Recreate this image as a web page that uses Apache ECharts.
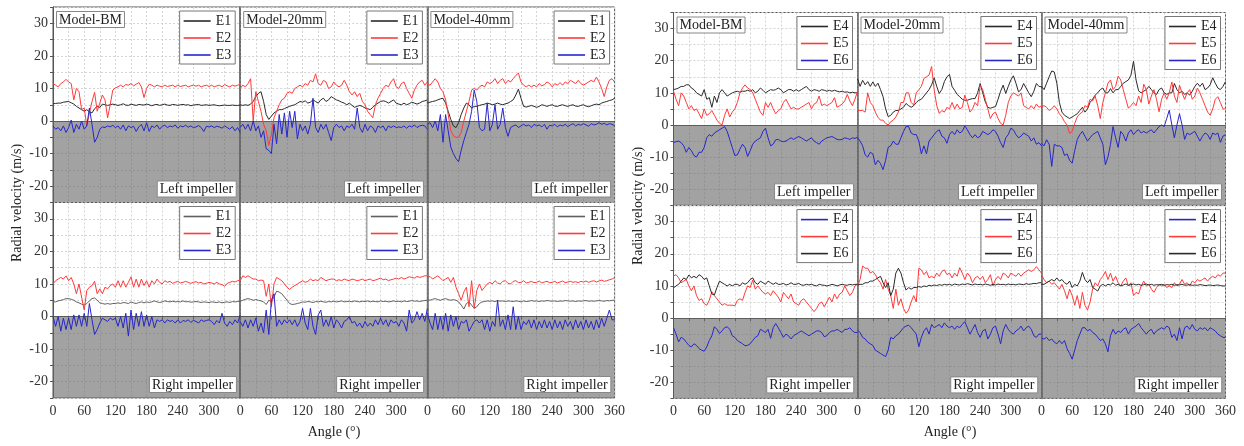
<!DOCTYPE html>
<html>
<head>
<meta charset="utf-8">
<script src="https://cdn.jsdelivr.net/npm/echarts@6/dist/echarts.min.js"></script>
<style>
  html, body { margin: 0; background: #fff; }
  #chart { width: 1244px; height: 446px; }
</style>
</head>
<body>
<div id="chart"></div>
<script>
// angle samples, 0..360 every 5 deg
const angles = Array.from({ length: 73 }, (_, i) => i * 5);

// ---- left panel, left impeller (E1 E2 E3)
const ltBM1 = [5.3,5.4,5.5,5.5,5.8,5.9,6.0,5.6,5.2,4.5,4.0,3.5,
  3.0,3.5,2.8,2.5,3.8,4.5,4.2,5.2,5.0,4.8,5.0,5.2,
  5.0,4.8,5.0,5.3,4.9,4.8,5.2,5.0,4.8,5.1,5.0,4.9,
  5.2,5.0,4.7,5.0,5.1,4.8,5.0,5.2,4.9,4.8,5.1,5.0,
  4.8,5.0,5.1,4.9,5.0,4.7,4.9,5.0,5.1,4.8,4.9,5.0,
  4.8,4.9,5.0,4.8,4.7,4.8,4.9,4.8,4.8,4.9,4.8,4.8, 4.9];
const ltBM2 = [11.5,11.0,10.5,11.5,12.0,12.8,12.0,11.5,6.5,10.0,9.0,3.5,
  4.0,-1.5,2.5,6.0,8.8,3.0,5.5,8.0,6.5,1.0,5.0,9.5,
  10.2,10.5,11.0,10.5,11.2,11.0,11.5,10.8,11.3,11.8,10.5,7.2,
  10.0,11.3,11.0,10.5,11.0,10.7,10.5,11.0,10.6,10.8,11.0,10.5,
  11.0,10.6,10.8,11.0,10.5,10.8,11.0,10.7,11.0,10.5,10.8,11.0,
  10.6,11.0,10.5,10.8,11.0,10.5,11.2,10.8,10.5,11.0,10.7,11.0, 11.2];
const ltBM3 = [-1.5,-2.5,-2.0,-3.0,-1.5,-3.5,-2.0,0.3,-3.5,-1.0,-2.5,0.0,
  -2.5,-1.5,4.0,-1.0,-6.5,-5.0,-2.5,-1.8,-2.0,-1.5,-1.8,-1.3,
  -2.0,-1.5,-2.5,-1.2,-3.0,-1.5,-2.0,-1.6,-3.2,-1.8,-1.0,-3.0,
  -0.5,-3.2,-1.5,-2.0,-1.2,-2.5,-1.6,-1.3,-2.0,-1.5,-1.8,-1.2,
  -2.2,-1.5,-1.8,-1.3,-1.9,-1.5,-2.0,-1.8,-1.4,-2.0,-3.2,-1.6,
  -1.8,-1.5,-2.0,-1.6,-1.8,-2.2,-1.5,-2.0,-2.5,-1.7,-3.0,-2.0, -3.5];

const lt20_1 = [5.0,4.8,5.0,4.8,5.2,6.0,7.5,8.5,9.0,6.0,2.0,0.5,
  1.5,2.5,3.0,3.5,3.5,3.8,4.2,4.5,4.8,5.0,5.5,6.0,
  5.8,6.2,5.5,5.8,6.5,6.0,5.5,6.5,7.0,6.0,6.5,7.5,
  7.0,6.5,6.2,5.8,5.5,5.0,5.5,4.8,4.2,4.5,4.8,4.5,
  4.0,3.8,3.5,4.2,5.0,5.5,6.0,6.2,6.0,5.5,6.0,6.5,
  5.5,5.2,5.0,5.5,5.0,5.3,5.8,5.5,5.2,5.5,6.0,6.2, 6.5];
const lt20_2 = [10.0,11.0,10.5,11.5,13.0,0.0,9.0,6.0,3.0,-1.0,-3.0,-7.5,
  -4.0,1.0,3.0,5.0,6.5,7.0,8.5,9.0,8.5,10.0,10.5,11.0,
  10.5,11.5,11.0,12.5,12.0,14.5,11.5,11.0,12.5,12.0,10.0,10.5,
  12.0,11.0,10.5,11.0,12.5,11.0,9.0,8.0,9.0,7.5,8.5,6.0,
  5.0,3.0,2.0,1.0,5.0,7.0,8.5,10.0,11.0,10.5,12.0,13.0,
  10.5,10.0,11.5,12.0,10.0,8.5,7.0,9.5,11.0,12.0,12.5,11.0, 12.0];
const lt20_3 = [-2.0,-1.0,-2.5,-1.0,-3.0,0.0,-3.0,-1.5,-5.0,-3.0,-8.5,-9.0,
  -10.0,-1.0,-7.0,2.0,-4.0,2.5,-5.0,3.0,-2.0,3.0,-5.5,-1.0,
  -3.0,-1.5,-4.0,-1.0,7.0,-2.0,-3.5,-1.0,-2.5,-1.0,-3.5,-6.0,
  -2.0,-1.0,-2.0,-1.5,-3.0,-1.5,-2.0,-1.0,-2.5,4.0,-2.0,-3.5,
  -1.0,-3.0,-1.5,-2.0,-3.5,-1.5,-2.0,-1.5,-3.0,-1.5,-2.0,-1.5,
  -2.0,-1.8,-2.0,-1.5,-2.2,-1.5,-1.8,-1.2,-2.0,-1.5,-1.3,-1.5, -2.5];

const lt40_1 = [5.5,5.8,6.0,6.2,6.5,6.8,7.0,5.5,3.0,0.5,-1.5,-2.0,
  -0.5,2.0,4.0,5.5,5.0,4.0,4.5,4.5,4.8,5.0,5.2,5.5,
  5.3,5.0,5.2,5.5,5.2,5.0,5.3,5.5,6.0,6.5,8.0,9.8,
  7.0,4.5,4.3,4.5,4.8,4.5,4.2,4.5,5.0,4.8,4.5,4.8,
  5.0,4.6,4.5,4.8,5.0,4.7,4.5,4.8,5.0,4.6,4.5,4.8,
  5.0,4.6,4.4,4.7,5.0,5.2,5.0,5.5,5.8,6.0,6.3,6.5, 7.0];
const lt40_2 = [11.5,11.0,12.0,13.0,12.0,10.0,9.0,6.5,2.0,-3.0,-4.5,-5.0,
  -5.0,-3.5,0.0,3.0,6.0,9.5,10.0,9.5,10.5,11.0,10.5,12.0,
  11.5,12.0,13.0,11.5,12.5,13.0,11.5,12.5,12.0,13.0,14.0,14.7,
  12.0,11.0,10.5,11.0,10.5,11.0,10.5,11.5,10.8,11.2,12.0,11.5,
  10.5,11.5,11.0,11.8,11.0,12.0,11.5,12.5,12.0,11.5,12.5,11.5,
  11.0,11.5,12.0,12.5,12.0,13.5,12.0,10.0,7.5,10.5,12.5,13.0, 12.0];
const lt40_3 = [-1.0,-0.5,-2.0,0.0,-3.0,2.0,-6.5,2.0,-3.0,-8.0,-10.0,-11.5,
  -12.5,-9.0,-6.0,-3.5,-1.0,3.0,9.5,6.0,-2.0,-3.0,-2.5,5.5,
  -3.0,-1.0,5.0,-2.5,-1.0,4.0,-2.0,-4.7,-2.0,-1.5,-1.2,-2.0,
  -1.5,-1.0,-1.5,-1.2,-2.0,-1.0,-1.5,-1.2,-1.8,-1.0,-2.5,-1.3,
  -1.5,-1.0,-1.8,-1.2,-1.5,-1.0,-1.7,-1.2,-0.8,-1.5,-1.0,-1.3,
  -0.8,-1.2,-1.6,-0.8,-1.2,-1.0,-0.5,-1.0,-0.7,-1.2,-0.8,-1.0, -1.4];

// ---- left panel, right impeller (E1 E2 E3)
const lbBM1 = [4.5,4.5,4.8,5.0,5.2,5.5,5.5,5.3,5.0,4.5,4.2,3.8,
  3.5,4.0,4.8,5.5,5.7,5.0,4.2,4.0,3.8,4.0,3.8,4.0,
  4.0,4.2,4.0,4.3,4.2,4.0,4.5,4.2,4.0,4.3,4.5,4.2,
  4.5,4.3,4.5,4.8,4.5,4.3,4.5,4.8,4.6,4.5,4.7,4.5,
  4.6,4.5,4.8,4.5,4.6,4.4,4.5,4.6,4.5,4.3,4.5,4.4,
  4.3,4.5,4.4,4.3,4.5,4.2,4.4,4.5,4.3,4.6,4.5,4.6, 4.7];
const lbBM2 = [10.0,11.0,11.5,12.0,11.5,12.5,11.0,12.0,10.0,7.0,10.0,6.0,
  2.0,8.0,9.0,9.5,10.8,7.0,8.5,7.0,9.0,8.5,9.5,10.0,
  9.0,11.0,9.0,11.0,9.0,10.5,12.2,9.0,11.5,9.0,11.5,9.5,
  11.0,9.0,11.0,10.0,11.5,10.5,10.0,11.0,10.5,10.8,10.2,10.5,
  10.8,10.3,10.5,10.8,10.5,10.2,10.5,10.7,10.3,10.5,10.0,10.2,
  10.5,10.3,10.0,10.5,10.0,9.8,9.3,10.2,10.5,10.8,10.6,11.0, 11.2];
const lbBM3 = [0.0,-3.0,0.0,-4.5,-0.5,-4.0,-0.5,-4.0,0.5,-3.0,0.5,-3.0,
  1.0,-3.0,4.0,-1.0,-5.5,-4.0,-2.0,-0.5,-1.0,-1.5,-0.5,-1.0,
  -0.5,-3.0,0.0,-3.5,1.0,-6.0,2.0,-4.0,1.0,-3.0,1.5,-3.0,
  0.5,-3.0,0.0,-3.5,-1.0,-1.5,-1.0,-2.0,-1.0,-1.5,-1.2,-2.0,
  -1.0,-2.0,-1.2,-1.5,-1.0,-1.8,-1.2,-1.5,-2.0,-1.0,-1.5,-1.2,
  -1.0,-1.5,-2.5,-1.2,-2.0,1.0,-2.0,-3.0,-1.5,-2.5,-1.0,-2.0, 0.5];

const lb20_1 = [4.7,5.0,5.3,5.5,5.3,5.0,5.2,5.0,4.8,4.5,3.7,5.0,
  4.5,6.0,7.8,7.5,7.0,6.0,5.0,4.0,3.7,3.8,4.0,4.2,
  4.5,4.4,4.6,4.5,4.3,4.6,4.5,4.7,4.5,4.4,4.6,4.5,
  4.7,4.5,4.6,4.8,4.5,4.6,4.7,4.5,4.8,4.6,4.5,4.7,
  4.6,4.8,4.5,4.7,4.6,4.5,4.8,4.6,4.7,4.5,4.6,4.8,
  4.6,4.7,4.5,4.8,4.6,4.7,4.9,4.7,4.8,4.6,4.8,4.9, 5.0];
const lb20_2 = [11.0,12.5,12.0,12.5,12.0,11.5,11.5,11.0,11.2,11.0,6.2,10.0,
  3.0,10.0,12.0,11.5,11.0,10.0,9.0,8.3,9.0,9.5,10.0,10.5,
  11.0,10.5,10.8,11.5,11.0,11.3,11.0,12.0,11.5,11.0,11.3,11.5,
  11.5,11.0,11.3,11.0,11.5,11.2,11.0,11.5,11.3,11.0,11.2,11.5,
  11.0,11.3,11.5,11.0,11.2,11.5,11.8,11.3,11.5,11.0,11.3,11.5,
  11.8,11.5,12.0,11.5,11.8,12.2,12.0,11.8,12.3,12.0,12.2,12.5, 12.5];
const lb20_3 = [-1.5,-3.0,-1.0,-3.5,-1.0,-3.0,-0.5,-4.5,-2.0,-5.0,2.0,-5.5,
  5.0,7.0,-3.0,-1.0,-2.5,-1.0,-2.0,-1.0,-2.5,-1.0,-3.0,-1.5,
  2.5,-2.0,-4.0,2.5,-3.0,-5.5,0.5,2.0,-3.0,-1.0,-3.0,0.0,
  -3.5,-1.0,-2.0,-3.5,-1.5,-1.0,0.0,-2.0,-1.5,-3.0,-2.0,-3.5,
  -1.5,-3.0,-2.0,-3.0,-1.0,-2.5,-0.5,-2.5,-1.0,-3.0,-1.0,-2.0,
  -1.5,-3.0,-1.0,-2.0,-4.5,2.0,-2.0,-1.0,1.5,-1.0,1.0,-1.5, 2.5];

const lb40_1 = [5.2,5.0,5.3,5.5,5.2,5.0,5.3,5.5,5.2,5.0,5.2,5.0,
  4.5,3.5,2.3,4.0,4.5,3.5,2.5,3.0,4.0,4.5,4.6,4.8,
  4.7,4.8,4.6,4.9,4.7,4.8,4.6,4.8,4.7,4.6,4.8,4.7,
  4.5,4.8,4.6,4.7,4.9,4.7,4.8,4.6,4.8,4.7,4.9,4.8,
  4.7,4.8,4.6,4.8,4.7,4.9,4.8,4.7,4.8,4.6,4.8,4.7,
  4.8,4.9,4.7,4.8,4.7,4.8,4.9,4.8,4.7,4.9,4.8,5.0, 5.0];
const lb40_2 = [12.0,12.3,11.5,12.0,12.5,11.8,11.0,11.5,12.0,10.5,12.0,9.0,
  7.0,5.0,7.5,9.0,3.0,11.0,2.5,8.0,10.0,8.0,9.0,10.0,
  10.5,10.0,11.0,10.3,10.0,10.8,11.0,10.2,10.0,10.8,11.0,10.4,
  10.5,11.0,10.3,10.5,10.8,10.4,10.5,10.9,10.3,10.6,10.8,10.4,
  10.5,10.8,10.3,10.6,10.9,10.4,10.6,10.8,10.5,10.7,10.4,10.8,
  10.6,10.9,10.5,10.8,11.0,10.6,10.9,11.2,10.8,11.0,11.3,11.5, 12.0];
const lb40_3 = [1.0,-2.0,-4.0,1.0,-4.0,0.0,-4.0,1.0,-4.5,0.5,-3.0,0.0,
  -4.0,-1.5,-2.0,-1.0,-4.5,-3.0,-1.5,-1.0,-2.0,-1.0,-4.0,-1.0,
  -4.5,-1.5,-3.0,5.0,-3.0,-1.0,-4.0,0.5,-4.0,3.0,-4.0,0.0,
  -4.0,-1.5,-2.5,-1.0,-3.5,-1.0,-4.0,-1.5,-3.5,-1.0,-3.5,-1.5,
  -4.0,-1.0,-3.5,-1.5,-4.0,-1.0,-3.0,-1.5,-4.0,-1.0,-3.5,-1.5,
  -4.0,-1.0,-3.5,-1.5,-4.0,-1.0,-3.5,-0.5,-3.0,-0.5,2.0,-1.0, -1.0];

// ---- right panel, left impeller (E4 E5 E6)
const rtBM4 = [11.0,11.2,11.5,12.0,12.0,12.5,12.5,11.5,11.0,10.0,9.5,9.0,
  11.0,8.0,8.5,5.5,9.0,7.0,10.0,11.0,10.0,9.0,9.5,10.0,
  10.3,10.5,10.2,10.5,10.5,10.8,10.5,11.0,10.0,10.5,11.5,10.8,
  10.0,10.5,11.0,10.8,11.0,11.5,11.0,10.0,10.5,11.0,11.0,10.5,
  11.0,10.5,11.0,11.5,12.0,11.0,10.5,11.0,10.8,10.5,11.0,10.8,
  10.5,10.8,10.5,10.8,10.5,10.3,10.5,10.2,10.3,10.0,10.2,10.0, 10.0];
const rtBM5 = [10.5,8.0,6.0,10.0,9.0,7.0,5.0,6.0,4.5,5.0,3.5,2.0,
  5.0,3.0,3.5,4.5,3.0,1.5,0.5,0.0,3.0,5.0,2.5,4.0,
  5.0,7.0,10.0,11.5,12.5,11.5,11.0,10.0,8.0,6.0,4.0,3.0,
  7.0,5.5,7.0,5.0,3.5,4.5,5.0,7.0,8.0,6.5,5.0,5.5,
  5.0,5.0,5.5,6.0,6.5,7.0,5.0,6.5,7.0,9.0,6.0,6.5,
  6.0,6.5,7.0,8.5,5.5,6.0,6.5,7.5,9.5,7.5,6.0,8.0, 10.5];
const rtBM6 = [-5.5,-5.2,-5.0,-5.5,-6.5,-8.5,-7.0,-8.0,-9.5,-10.0,-8.5,-8.5,
  -7.0,-4.0,-3.0,-3.5,-2.5,-2.0,-1.5,-1.0,-0.5,-2.0,-4.5,-7.0,
  -9.5,-9.3,-7.5,-6.0,-7.0,-9.8,-8.0,-6.0,-5.0,-4.5,-4.0,-2.0,
  -1.0,-4.0,-6.5,-6.0,-4.6,-4.5,-5.0,-5.2,-5.0,-4.5,-4.0,-4.5,
  -4.0,-3.6,-4.0,-4.5,-5.0,-4.5,-4.0,-5.0,-5.5,-6.0,-5.0,-4.5,
  -4.0,-3.8,-3.6,-4.0,-4.5,-4.6,-4.5,-4.0,-4.2,-4.5,-4.0,-4.2, -3.8];

const rt20_4 = [14.4,12.0,13.9,12.5,13.5,12.0,13.4,12.0,13.0,11.0,8.8,5.0,
  2.6,3.0,4.0,4.5,4.5,5.0,5.5,6.7,6.0,5.5,6.0,7.0,
  7.7,8.0,9.0,10.0,11.0,12.5,14.7,12.0,9.8,11.0,13.5,15.0,
  15.7,12.0,10.8,9.5,8.8,8.0,7.7,7.7,8.0,8.2,8.2,10.0,
  12.9,10.0,7.2,5.5,5.2,5.5,5.7,8.0,10.5,12.4,9.8,12.0,
  14.0,15.3,13.0,10.3,11.0,12.9,11.5,10.0,8.8,10.5,12.9,12.0, 11.9];
const rt20_5 = [4.6,4.5,4.5,4.0,10.0,7.0,6.0,4.0,2.4,1.5,1.5,0.5,
  0.0,1.0,1.5,2.5,4.0,7.0,7.0,10.0,10.0,7.0,6.2,10.0,
  11.0,12.0,14.5,15.0,15.5,18.2,11.0,6.0,3.6,4.5,4.0,5.5,
  5.0,7.0,5.0,6.5,5.0,5.5,9.3,7.0,4.0,5.0,7.0,6.0,
  12.4,11.0,8.0,5.0,2.0,3.5,4.0,2.0,0.5,0.0,3.0,7.0,
  9.0,10.0,9.5,9.0,10.0,6.0,5.5,5.0,6.0,5.0,6.5,5.5, 6.0];
const rt20_6 = [-3.9,-5.0,-6.5,-9.3,-10.0,-8.5,-9.0,-12.4,-11.0,-12.0,-13.9,-11.0,
  -7.0,-6.5,-5.0,-6.0,-6.0,-4.0,-2.0,-0.5,-0.5,-2.5,-3.0,-3.0,
  -5.0,-9.0,-6.5,-9.0,-5.0,-4.0,-3.0,-2.0,-1.5,-3.5,-4.0,-5.7,
  -3.0,-2.0,-3.0,-1.5,-2.5,-2.0,-0.3,-1.5,-3.0,-4.0,-3.0,-4.0,
  -3.5,-2.0,-2.5,-3.0,-2.5,-1.5,-2.0,-3.5,-5.5,-7.0,-4.0,-3.0,
  -1.0,-1.5,-3.0,-4.0,-3.5,-2.5,-3.0,-3.5,-5.0,-4.0,-6.0,-5.5, -6.5];

const rt40_4 = [12.0,11.0,13.0,15.0,16.8,16.5,13.0,7.0,4.0,3.0,2.5,2.0,
  2.5,3.0,3.5,4.5,5.5,4.0,5.0,7.0,8.0,9.3,10.0,11.0,
  11.5,10.0,10.0,11.3,10.0,11.0,11.0,12.0,13.0,13.5,14.0,15.5,
  19.8,14.0,10.6,10.0,10.5,11.0,12.0,11.0,10.0,9.5,11.0,11.5,
  10.0,9.5,10.0,10.0,12.9,11.0,10.0,10.5,9.5,10.0,9.3,10.5,
  12.0,13.0,12.0,13.0,11.0,11.5,12.5,14.7,13.0,11.5,11.0,12.0, 13.5];
const rt40_5 = [5.7,6.0,5.5,4.5,5.0,6.0,5.0,3.5,2.5,1.0,0.0,-2.6,
  -2.0,0.5,2.5,3.5,4.0,6.0,5.5,8.0,7.5,9.0,6.0,2.0,
  7.0,10.0,13.0,14.0,11.0,12.0,15.2,14.0,11.0,8.0,5.2,6.0,
  7.0,6.0,9.0,7.0,12.7,11.0,6.5,9.0,11.0,8.0,4.1,8.0,
  10.0,8.0,10.0,13.4,9.0,7.0,12.4,10.0,8.0,10.0,11.0,8.0,
  9.0,11.5,10.0,8.0,6.0,4.0,3.0,5.0,8.0,8.8,7.0,5.0, 5.0];
const rt40_6 = [-5.7,-6.5,-4.6,-6.0,-12.9,-6.0,-6.5,-6.5,-7.0,-9.5,-9.0,-11.0,
  -11.9,-8.0,-4.5,-3.0,-2.0,-3.5,-5.0,-4.0,-3.0,-2.5,-2.0,-4.0,
  -6.0,-12.4,-10.0,-6.0,-0.5,-4.0,-7.0,-2.0,-3.0,-5.0,-2.5,-1.5,
  -3.0,-2.0,-1.5,-2.5,-2.0,-2.5,-2.0,-1.5,-2.5,-1.5,-0.5,0.0,
  -0.5,2.0,4.6,0.0,-4.0,0.0,3.5,0.0,-4.5,-2.5,-3.0,-2.5,
  -2.0,-3.5,-5.0,-3.5,-2.5,-3.0,-4.5,-2.5,-3.0,-2.5,-5.4,-3.5, -3.0];

// ---- right panel, right impeller (E4 E5 E6)
const rbBM4 = [-3.0,-5.0,-7.4,-6.0,-6.5,-7.5,-8.5,-9.0,-8.0,-8.5,-9.5,-10.0,
  -10.3,-9.0,-7.0,-5.5,-2.7,-3.5,-4.8,-4.0,-3.0,-2.7,-3.5,-5.5,
  -6.0,-7.0,-7.5,-8.0,-8.6,-8.5,-8.0,-7.0,-6.0,-5.5,-3.5,-4.0,
  -4.5,-3.5,-6.3,-3.0,-1.7,-3.0,-4.5,-6.0,-5.0,-5.5,-6.5,-5.5,
  -5.0,-4.5,-4.0,-4.5,-5.0,-5.5,-5.0,-4.5,-4.0,-4.0,-4.5,-5.8,
  -5.5,-4.5,-4.0,-4.0,-3.5,-4.0,-4.5,-3.5,-3.5,-3.0,-4.0,-4.5, -4.5];
const rbBM5 = [13.1,13.5,12.5,11.0,11.5,12.0,10.0,8.5,10.0,7.0,5.5,6.0,
  4.5,4.0,5.5,8.2,7.0,6.0,5.0,4.0,4.5,4.0,4.0,4.0,
  3.8,5.5,6.0,5.5,8.0,10.0,9.5,11.8,9.0,10.0,9.0,8.0,
  7.5,8.0,7.0,8.5,7.5,6.5,5.0,8.0,7.0,6.0,7.5,5.0,
  4.5,4.0,5.5,6.0,5.0,4.0,3.0,2.0,3.0,4.5,5.0,3.5,
  5.0,6.5,5.0,7.5,6.0,7.5,8.0,10.0,8.5,7.0,8.0,10.0, 10.5];
const rbBM6 = [9.4,10.0,10.5,11.5,12.5,12.0,13.4,12.5,13.0,12.5,13.5,13.0,
  12.0,12.5,10.0,7.5,7.2,9.5,11.5,11.0,10.5,10.0,10.5,10.0,
  10.5,10.5,10.0,11.0,10.5,11.0,12.0,12.5,11.0,10.5,11.5,11.0,
  10.5,11.5,11.0,10.5,11.0,10.5,10.5,10.8,10.3,10.5,11.0,10.5,
  10.5,10.8,10.3,10.2,10.5,10.3,10.5,10.2,10.0,10.5,10.3,10.2,
  10.0,10.2,10.5,10.3,10.0,10.3,10.5,10.3,10.2,10.5,10.3,10.5, 10.5];

const rb20_4 = [-3.7,-4.5,-6.0,-6.5,-7.5,-8.0,-8.5,-10.0,-10.5,-11.0,-11.5,-12.0,
  -10.0,-6.0,-6.5,-5.5,-5.0,-4.0,-3.0,-2.5,-2.2,-3.0,-4.0,-5.0,
  -8.9,-6.0,-4.0,-3.0,-5.0,-2.0,-3.0,-2.5,-2.0,-3.0,-1.5,-2.5,
  -3.0,-2.5,-3.5,-2.5,-3.0,-2.0,-1.1,-3.0,-5.0,-3.5,-2.0,-4.5,
  -6.0,-4.0,-3.5,-6.5,-5.0,-3.0,-2.5,-5.0,-8.0,-4.0,-2.0,-3.5,
  -4.5,-5.0,-4.0,-3.5,-2.5,-4.0,-3.0,-2.5,-3.5,-5.5,-6.0,-5.0, -5.0];
const rb20_5 = [9.8,12.0,16.2,15.5,15.5,14.0,14.5,13.5,12.0,11.0,9.0,12.0,
  9.0,7.0,3.0,9.0,4.0,6.0,3.0,1.5,2.5,5.0,7.0,5.0,
  15.5,15.0,13.5,14.5,12.5,13.0,12.5,14.0,13.0,14.5,15.0,13.5,
  14.0,12.5,14.0,13.0,15.7,14.0,12.0,14.0,13.0,11.0,12.5,13.0,
  12.0,13.0,11.0,12.0,13.5,10.0,12.0,13.0,12.0,14.0,13.5,12.5,
  14.0,13.5,13.0,14.0,13.0,14.0,14.5,15.0,14.5,15.0,16.0,15.0, 14.0];
const rb20_6 = [10.3,10.5,10.5,11.0,11.0,11.5,11.5,12.0,12.5,13.0,11.0,9.5,
  11.0,7.0,9.0,14.0,15.5,14.0,11.0,8.7,9.5,9.0,9.5,9.5,
  9.8,9.6,10.0,9.8,10.2,10.0,10.3,10.1,10.4,10.2,10.5,10.3,
  10.5,10.2,10.6,10.4,10.3,10.6,10.4,10.7,10.5,10.3,10.6,10.4,
  10.5,10.3,10.6,10.4,10.2,10.5,10.3,10.6,10.4,10.5,10.3,10.6,
  10.4,10.5,10.3,10.6,10.5,10.4,10.7,10.5,10.6,10.8,10.7,11.0, 11.0];

const rb40_4 = [-6.3,-6.5,-6.0,-7.0,-6.5,-7.5,-8.0,-7.0,-8.0,-7.0,-9.5,-11.0,
  -12.8,-10.0,-7.0,-5.0,-3.0,-3.0,-4.0,-3.5,-4.5,-5.0,-6.0,-7.0,
  -6.5,-8.0,-10.5,-5.5,-3.5,-5.0,-4.0,-4.5,-3.5,-3.0,-5.0,-3.5,
  -3.0,-2.5,-1.7,-3.0,-4.0,-5.0,-4.0,-3.5,-5.0,-4.0,-3.5,-3.0,
  -3.5,-2.5,-3.0,-6.0,-5.0,-7.0,-3.0,-6.5,-3.0,-2.5,-3.5,-2.0,
  -3.5,-4.0,-3.0,-3.5,-3.0,-4.0,-3.0,-3.5,-4.0,-5.0,-5.5,-6.0, -6.0];
const rb40_5 = [13.4,12.0,11.0,11.5,10.5,11.0,10.0,9.0,10.5,8.5,6.0,9.0,
  7.0,4.0,7.0,3.0,8.0,4.0,2.5,5.0,9.0,11.0,10.0,12.0,
  13.0,14.5,12.0,14.0,11.5,13.0,11.0,10.0,11.5,12.5,10.0,11.0,
  7.0,8.0,7.5,10.0,11.5,10.0,10.5,9.0,8.0,9.5,10.5,10.0,
  10.5,9.5,10.0,9.5,11.0,10.0,10.5,12.0,10.5,11.0,10.0,11.5,
  11.0,12.0,11.5,12.0,12.5,11.5,12.5,13.0,12.5,13.5,13.0,14.0, 14.0];
const rb40_6 = [10.5,10.5,11.0,11.5,12.0,11.5,12.5,11.5,12.0,11.0,10.5,11.5,
  9.5,10.5,10.0,11.5,14.2,12.0,11.0,12.0,9.5,9.0,8.4,10.0,
  10.5,10.0,10.5,10.3,11.0,10.2,10.5,10.0,10.3,10.6,10.2,10.4,
  10.6,10.3,10.5,10.2,10.4,10.6,10.3,10.5,10.2,10.4,10.3,10.5,
  10.2,10.4,10.3,10.5,10.2,10.4,10.3,10.5,10.2,10.3,10.4,10.2,
  10.3,10.2,10.4,10.3,10.1,10.2,10.3,10.1,10.2,10.3,10.1,10.0, 10.0];

const models = ['Model-BM', 'Model-20mm', 'Model-40mm'];
const impellers = ['Left impeller', 'Right impeller'];

const BLACK = '#2a2a2a', GRAY = '#606060', RED = '#ff3a3a', BLUE = '#2626cc';
const FONT = "'Liberation Serif', 'Times New Roman', serif";
const W = 1244, H = 446;

// panel frames in px
const panels = [
  { left: 53, colW: 187.2, tops: [7, 202.5], rowH: 195.5 },
  { left: 673.5, colW: 184, tops: [12.5, 205.6], rowH: 192.8 }
];

// p = panel, r = row, c = column
const plots = [
  { p: 0, r: 0, c: 0, lines: [['E1', ltBM1, BLACK], ['E2', ltBM2, RED], ['E3', ltBM3, BLUE]] },
  { p: 0, r: 0, c: 1, lines: [['E1', lt20_1, BLACK], ['E2', lt20_2, RED], ['E3', lt20_3, BLUE]] },
  { p: 0, r: 0, c: 2, lines: [['E1', lt40_1, BLACK], ['E2', lt40_2, RED], ['E3', lt40_3, BLUE]] },
  { p: 0, r: 1, c: 0, lines: [['E1', lbBM1, GRAY], ['E2', lbBM2, RED], ['E3', lbBM3, BLUE]] },
  { p: 0, r: 1, c: 1, lines: [['E1', lb20_1, GRAY], ['E2', lb20_2, RED], ['E3', lb20_3, BLUE]] },
  { p: 0, r: 1, c: 2, lines: [['E1', lb40_1, GRAY], ['E2', lb40_2, RED], ['E3', lb40_3, BLUE]] },
  { p: 1, r: 0, c: 0, lines: [['E4', rtBM4, BLACK], ['E5', rtBM5, RED], ['E6', rtBM6, BLUE]] },
  { p: 1, r: 0, c: 1, lines: [['E4', rt20_4, BLACK], ['E5', rt20_5, RED], ['E6', rt20_6, BLUE]] },
  { p: 1, r: 0, c: 2, lines: [['E4', rt40_4, BLACK], ['E5', rt40_5, RED], ['E6', rt40_6, BLUE]] },
  { p: 1, r: 1, c: 0, lines: [['E4', rbBM4, BLUE], ['E5', rbBM5, RED], ['E6', rbBM6, BLACK]] },
  { p: 1, r: 1, c: 1, lines: [['E4', rb20_4, BLUE], ['E5', rb20_5, RED], ['E6', rb20_6, BLACK]] },
  { p: 1, r: 1, c: 2, lines: [['E4', rb40_4, BLUE], ['E5', rb40_5, RED], ['E6', rb40_6, BLACK]] }
];

const grid = [], xAxis = [], yAxis = [], series = [], legend = [], title = [];
const splitStyle = { show: true, lineStyle: { color: '#d4d4d4', type: [2, 2], width: 1 } };

plots.forEach((pl, i) => {
  const P = panels[pl.p];
  const gl = P.left + pl.c * P.colW;
  const gt = P.tops[pl.r];
  const gr = gl + P.colW, gb = gt + P.rowH;

  grid.push({ left: gl, top: gt, width: P.colW, height: P.rowH,
    show: true, borderColor: '#555', borderWidth: 1 });

  xAxis.push({
    gridIndex: i, type: 'value', min: 0, max: 360, interval: 30,
    axisLine: { lineStyle: { color: '#555' } },
    axisTick: { show: pl.r === 1, length: 3, lineStyle: { color: '#555' } },
    axisLabel: {
      show: pl.r === 1, margin: 6, fontFamily: FONT, fontSize: 14, color: '#333',
      formatter: v => (v % 60 === 0 && (v < 360 || pl.c === 2)) ? String(v) : ''
    },
    splitLine: splitStyle
  });

  yAxis.push({
    gridIndex: i, type: 'value', min: -25, max: 35, interval: 5,
    axisLine: { show: true, lineStyle: { color: pl.c === 0 ? '#555' : '#6a6a6a', width: pl.c === 0 ? 1 : 1.6 } },
    axisTick: { show: pl.c === 0, length: 3, lineStyle: { color: '#555' } },
    axisLabel: {
      show: pl.c === 0, margin: 5, fontFamily: FONT, fontSize: 14, color: '#333',
      formatter: v => v % 10 === 0 ? String(v) : ''
    },
    splitLine: splitStyle
  });

  pl.lines.forEach(([name, vals, color], k) => {
    const s = {
      type: 'line', name, xAxisIndex: i, yAxisIndex: i,
      data: vals.map((v, j) => [angles[j], v]),
      showSymbol: false, symbol: 'none', z: 3, silent: true,
      lineStyle: { color, width: 1 }, itemStyle: { color }
    };
    if (k === 0) {
      s.markArea = {
        silent: true,
        itemStyle: { color: 'rgba(100,100,100,0.6)' },
        data: [[{ yAxis: -25 }, { yAxis: 0 }]]
      };
    }
    series.push(s);
  });

  legend.push({
    orient: 'vertical', right: W - gr + 5, top: gt + 4,
    backgroundColor: '#fff', borderColor: '#777', borderWidth: 1,
    padding: [3, 4, 2, 4], itemGap: 3, itemWidth: 27, itemHeight: 1.6, icon: 'rect',
    selectedMode: false,
    textStyle: { fontFamily: FONT, fontSize: 14, color: '#222', lineHeight: 14 },
    data: pl.lines.map(([name, , color]) => ({ name, itemStyle: { color } }))
  });

  if (pl.r === 0) {
    title.push({
      text: models[pl.c], left: gl + 3, top: gt + 4,
      padding: [2, 3, 1, 3], borderColor: '#888', borderWidth: 1, backgroundColor: '#fff',
      textStyle: { fontFamily: FONT, fontSize: 14, fontWeight: 'normal', color: '#222' }
    });
  }
  title.push({
    text: impellers[pl.r], right: W - gr + 4, bottom: H - gb + 5,
    padding: [2, 3, 1, 3], borderColor: '#888', borderWidth: 1, backgroundColor: '#fff',
    textStyle: { fontFamily: FONT, fontSize: 14, fontWeight: 'normal', color: '#222' }
  });
});

const axisText = (text, x, y, rot) => ({
  type: 'text', x, y, rotation: rot,
  style: { text, font: '14px ' + FONT, fill: '#222', align: 'center', verticalAlign: 'middle' }
});

const chart = echarts.init(document.getElementById('chart'), null, { renderer: 'canvas' });
chart.setOption({
  backgroundColor: '#fff',
  animation: false,
  grid, xAxis, yAxis, series, legend, title,
  graphic: [
    axisText('Radial velocity (m/s)', 17, 203, Math.PI / 2),
    axisText('Radial velocity (m/s)', 638, 206, Math.PI / 2),
    axisText('Angle (°)', 334, 432, 0),
    axisText('Angle (°)', 950, 432, 0)
  ]
});
</script>
</body>
</html>
